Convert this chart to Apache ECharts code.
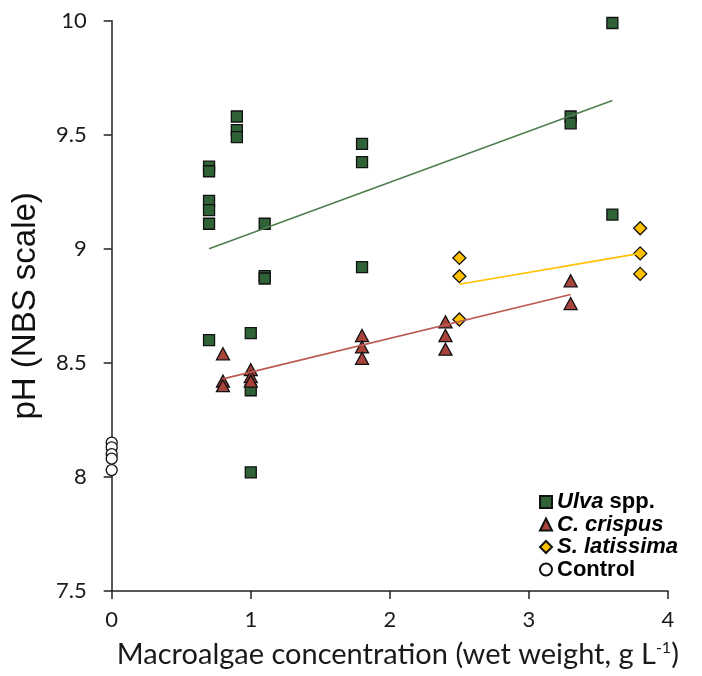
<!DOCTYPE html>
<html>
<head>
<meta charset="utf-8">
<script src="https://cdn.jsdelivr.net/npm/echarts@6/dist/echarts.min.js"></script>
<style>
  html, body { margin: 0; padding: 0; background: #fff; }
  #chart { width: 702px; height: 676px; }
</style>
</head>
<body>
<div id="chart"></div>
<script>
// pH measured at each macroalgae concentration (g L-1, wet weight)
const ulvaX = [0.7, 0.7, 0.7, 0.7, 0.7, 0.7, 0.9, 0.9, 0.9, 1.0, 1.0, 1.0, 1.1, 1.1, 1.1, 1.8, 1.8, 1.8, 3.3, 3.3, 3.6, 3.6];
const ulvaPH = [9.36, 9.34, 9.21, 9.17, 9.11, 8.60, 9.58, 9.52, 9.49, 8.63, 8.38, 8.02, 9.11, 8.88, 8.87, 9.46, 9.38, 8.92, 9.58, 9.55, 9.99, 9.15];

const crispusX = [0.8, 0.8, 0.8, 1.0, 1.0, 1.0, 1.8, 1.8, 1.8, 2.4, 2.4, 2.4, 3.3, 3.3];
const crispusPH = [8.54, 8.42, 8.40, 8.47, 8.44, 8.42, 8.62, 8.57, 8.52, 8.68, 8.62, 8.56, 8.86, 8.76];

const latissimaX = [2.5, 2.5, 2.5, 3.8, 3.8, 3.8];
const latissimaPH = [8.96, 8.88, 8.69, 9.09, 8.98, 8.89];

const controlX = [0, 0, 0, 0, 0];
const controlPH = [8.15, 8.13, 8.10, 8.08, 8.03];

// linear trend lines: [start x, end x] and [start pH, end pH]
const ulvaTrendX = [0.7, 3.6];
const ulvaTrendPH = [9.0, 9.65];
const crispusTrendX = [0.8, 3.3];
const crispusTrendPH = [8.43, 8.80];
const latissimaTrendX = [2.5, 3.8];
const latissimaTrendPH = [8.845, 8.98];

// axis ticks
const xTicks = [0, 1, 2, 3, 4];
const yTicks = [7.5, 8, 8.5, 9, 9.5, 10];

const seriesNames = ['Ulva spp.', 'C. crispus', 'S. latissima', 'Control'];

const pairs = (xs, ys) => xs.map((x, i) => [x, ys[i]]);

const chart = echarts.init(document.getElementById('chart'), null, { renderer: 'canvas' });

const tickFont = 'Lato, "Open Sans", sans-serif';
const legendFont = '"Liberation Sans", Arial, sans-serif';

const legendLabels = {
  'Ulva spp.': '{i|Ulva} {b|spp.}',
  'C. crispus': '{i|C. crispus}',
  'S. latissima': '{i|S. latissima}',
  'Control': '{b|Control}'
};

const option = {
  animation: false,
  backgroundColor: '#ffffff',
  grid: { left: 111.7, right: 34, top: 20.7, bottom: 85, containLabel: false, outerBoundsMode: 'none' },
  xAxis: {
    type: 'value',
    min: xTicks[0],
    max: xTicks[xTicks.length - 1],
    interval: 1,
    name: 'Macroalgae concentration (wet weight, g L{sup|-1})',
    nameLocation: 'middle',
    nameGap: 49,
    nameTextStyle: {
      fontFamily: tickFont,
      fontSize: 29,
      color: '#1a1a1a',
      padding: [0, 0, 0, 16],
      rich: {
        sup: { fontFamily: tickFont, fontSize: 16, color: '#1a1a1a', verticalAlign: 'top', lineHeight: 16, padding: [0, 0, 14, 0] }
      }
    },
    axisLine: { show: true, lineStyle: { color: '#222', width: 1.5 } },
    axisTick: { show: true, inside: false, length: 8, lineStyle: { color: '#222', width: 1.5 } },
    axisLabel: { fontFamily: tickFont, fontSize: 22, color: '#1a1a1a', margin: 18 },
    splitLine: { show: false }
  },
  yAxis: {
    type: 'value',
    min: yTicks[0],
    max: yTicks[yTicks.length - 1],
    interval: 0.5,
    name: 'pH (NBS scale)',
    nameLocation: 'middle',
    nameGap: 69,
    nameRotate: 90,
    nameTextStyle: { fontFamily: legendFont, fontSize: 33, color: '#111' },
    axisLine: { show: true, onZero: false, lineStyle: { color: '#222', width: 1.5 } },
    axisTick: { show: true, inside: false, length: 8, lineStyle: { color: '#222', width: 1.5 } },
    axisLabel: { fontFamily: tickFont, fontSize: 22, color: '#1a1a1a', margin: 25 },
    splitLine: { show: false }
  },
  legend: {
    data: seriesNames,
    orient: 'vertical',
    left: 534,
    top: 486,
    itemWidth: 12,
    itemHeight: 12,
    itemGap: 0.5,
    formatter: name => legendLabels[name],
    textStyle: {
      fontFamily: legendFont,
      fontSize: 22,
      lineHeight: 21,
      color: '#000',
      rich: {
        i: { fontFamily: legendFont, fontSize: 22, fontStyle: 'italic', fontWeight: 'bold', color: '#000' },
        b: { fontFamily: legendFont, fontSize: 22, fontWeight: 'bold', color: '#000' }
      }
    }
  },
  series: [
    {
      name: 'Ulva spp.',
      type: 'scatter',
      symbol: 'rect',
      symbolSize: 11,
      clip: false,
      z: 2,
      itemStyle: { color: '#2f6236', borderColor: '#111', borderWidth: 1.3, opacity: 1 },
      data: pairs(ulvaX, ulvaPH)
    },
    {
      name: 'C. crispus',
      type: 'scatter',
      symbol: 'triangle',
      symbolSize: [13, 12],
      clip: false,
      z: 3,
      itemStyle: { color: '#a8433a', borderColor: '#111', borderWidth: 1.3, opacity: 1 },
      data: pairs(crispusX, crispusPH)
    },
    {
      name: 'S. latissima',
      type: 'scatter',
      symbol: 'diamond',
      symbolSize: 13,
      clip: false,
      z: 3,
      itemStyle: { color: '#ffc000', borderColor: '#111', borderWidth: 1.3, opacity: 1 },
      data: pairs(latissimaX, latissimaPH)
    },
    {
      name: 'Control',
      type: 'scatter',
      symbol: 'circle',
      symbolSize: 11,
      clip: false,
      z: 3,
      itemStyle: { color: '#ffffff', borderColor: '#111', borderWidth: 1.3, opacity: 1 },
      data: pairs(controlX, controlPH)
    },
    {
      name: 'Ulva trend',
      type: 'line',
      showSymbol: false,
      symbol: 'none',
      z: 4,
      lineStyle: { color: '#4f7d4f', width: 1.6 },
      data: pairs(ulvaTrendX, ulvaTrendPH)
    },
    {
      name: 'C. crispus trend',
      type: 'line',
      showSymbol: false,
      symbol: 'none',
      z: 4,
      lineStyle: { color: '#bb5a50', width: 1.6 },
      data: pairs(crispusTrendX, crispusTrendPH)
    },
    {
      name: 'S. latissima trend',
      type: 'line',
      showSymbol: false,
      symbol: 'none',
      z: 4,
      lineStyle: { color: '#ffc000', width: 1.6 },
      data: pairs(latissimaTrendX, latissimaTrendPH)
    }
  ]
};

chart.setOption(option);
</script>
</body>
</html>
